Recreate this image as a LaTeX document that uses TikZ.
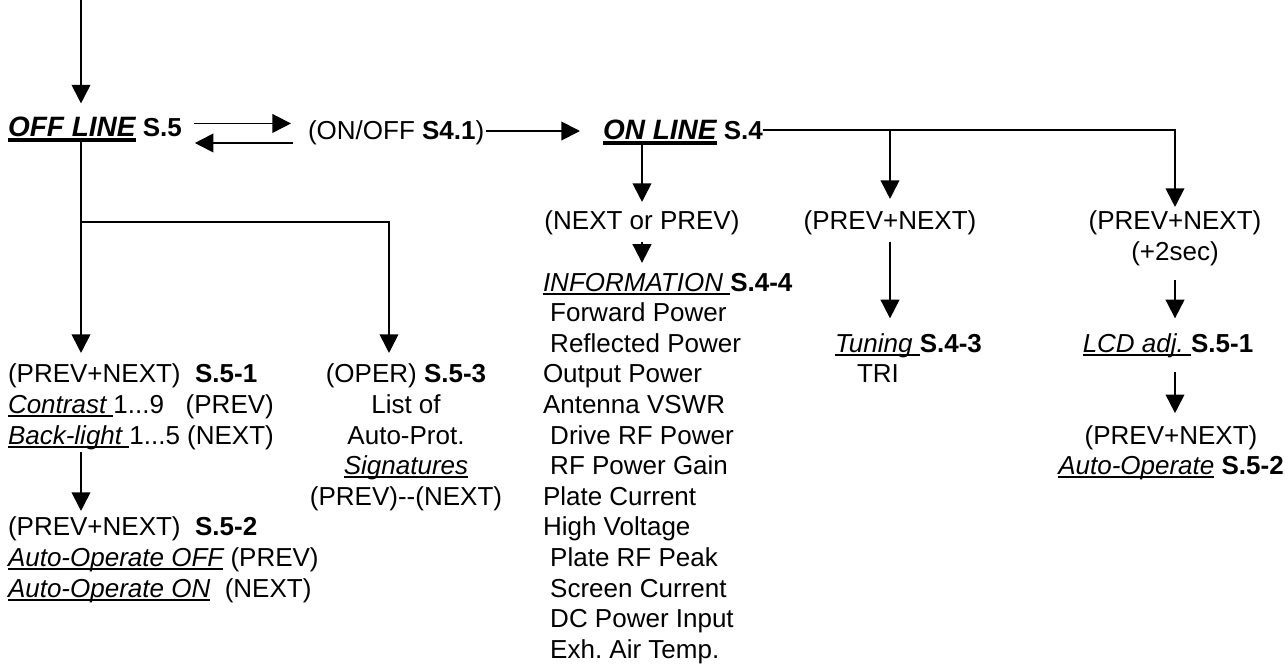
\documentclass[tikz,border=0pt]{standalone}
\usepackage{fontspec}
\setmainfont{Liberation Sans}
\usetikzlibrary{arrows.meta,positioning,calc}
\frenchspacing
\newcommand{\txtfont}{\fontsize{19.5pt}{22.95pt}\selectfont}
\newcommand{\hdfont}{\fontsize{21pt}{22.95pt}\selectfont}
\newcommand{\undl}[1]{\setbox0\hbox{#1}\rlap{\rule[-0.14em]{\wd0}{0.075em}}\box0\relax}
\newcommand{\undlb}[1]{\setbox0\hbox{#1}\rlap{\rule[-0.22em]{\wd0}{0.13em}}\box0\relax}
\newcommand{\lead}{\hspace*{0.278em}}

\begin{document}
\begin{tikzpicture}[x=0.75pt,y=-0.75pt,
  txt/.style={inner sep=0pt,outer sep=0pt,font=\txtfont},
  col/.style={txt,align=left},
  ctr/.style={txt,align=center},
  arr/.style={-{Triangle[length=14pt,width=14pt]},line width=1.4pt}
]
  \useasboundingbox (0,0) rectangle (1288,664);
  \coordinate (entry) at (81,0);
  \coordinate (split) at (81,222);
  % header line
  \node[txt,anchor=base west] (offline) at (8,136) {\undlb{\hdfont\bfseries\itshape OFF LINE} \textbf{S.5}};
  \node[txt,anchor=base west] (onoff) at (308,139) {(ON/OFF \textbf{S4.1})};
  \node[txt,anchor=base west] (online) at (603,139) {\undlb{\hdfont\bfseries\itshape ON LINE} \textbf{S.4}};
  % on line branches (multi-line nodes sit on their last baseline)
  \node[txt,anchor=base] (nextprev) at (642,229.8) {(NEXT or PREV)};
  \node[txt,anchor=base] (pnmid) at (890,229.8) {(PREV+NEXT)};
  \node[ctr,anchor=base] (hold) at (1175,260.4) {(PREV+NEXT)\\(+2sec)};
  \node[col,anchor=base west] (info) at (543,658.2) {\undl{\itshape INFORMATION }\textbf{S.4-4}\\
    \lead Forward Power\\ \lead Reflected Power\\ Output Power\\ Antenna VSWR\\
    \lead Drive RF Power\\ \lead RF Power Gain\\ Plate Current\\ High Voltage\\
    \lead Plate RF Peak\\ \lead Screen Current\\ \lead DC Power Input\\ \lead Exh. Air Temp.};
  \node[txt,anchor=base west] (tuning) at (835,352.2) {\undl{\itshape Tuning }\textbf{S.4-3}};
  \node[txt,anchor=base] (tri) at (878,382.8) {TRI};
  \node[txt,anchor=base] (lcd) at (1168,352.2) {\undl{\itshape LCD adj. }\textbf{S.5-1}};
  \node[ctr,anchor=base] (autoop) at (1171,474.6) {(PREV+NEXT)\\\undl{\itshape Auto-Operate} \textbf{S.5-2}};
  % off line branches
  \node[col,anchor=base west] (s51) at (8,444) {(PREV+NEXT)\ \ \textbf{S.5-1}\\
    \undl{\itshape Contrast }1...9\ \ \ (PREV)\\ \undl{\itshape Back-light }1...5 (NEXT)};
  \node[ctr,anchor=base] (oper) at (406,505.2) {(OPER) \textbf{S.5-3}\\List of\\Auto-Prot.\\
    \undl{\itshape Signatures}\\(PREV)-{}-(NEXT)};
  \node[col,anchor=base west] (s52) at (8,597) {(PREV+NEXT)\ \ \textbf{S.5-2}\\
    \undl{\itshape Auto-Operate OFF} (PREV)\\ \undl{\itshape Auto-Operate ON}\ \ (NEXT)};

  \path ([yshift=9.4pt]offline.base east) coordinate (fwd)
        ([yshift=-5.25pt]offline.base east) coordinate (back)
        ([yshift=6pt]onoff.base east) coordinate (go)
        ([yshift=6.75pt]online.base east) coordinate (bus);
  \draw[arr,shorten >=9.75pt] (entry) -- (entry |- offline.north);
  \draw[arr,shorten <=9pt,shorten >=12.75pt] (fwd) -- (fwd -| onoff.west);
  \draw[arr,shorten <=11.25pt,shorten >=9.75pt] (back -| onoff.west) -- (back);
  \draw[arr,shorten <=1.5pt,shorten >=17.25pt] (go) -- (go -| online.west);
  \draw[arr,shorten >=3pt] (bus) -| (hold.north);
  \draw[arr,shorten >=9pt] (bus -| pnmid.north) -- (pnmid.north);
  \draw[arr,shorten >=6.75pt] (online.south -| nextprev.north) -- (nextprev.north);
  \draw[arr,shorten <=5pt,shorten >=7.5pt] (nextprev.south) -- (nextprev.south |- info.north);
  \draw[arr,shorten <=5pt,shorten >=11.25pt] (pnmid.south) -- (pnmid.south |- tuning.north);
  \draw[arr,shorten <=10.5pt,shorten >=11.25pt] (hold.south) -- (hold.south |- lcd.north);
  \draw[arr,shorten <=10.5pt,shorten >=9pt] (lcd.south -| hold.south) -- (hold.south |- autoop.north);
  \draw[arr,shorten >=8.25pt] (entry |- offline.south) -- (entry |- s51.north);
  \draw[arr,shorten >=8.25pt] (split) -| ([xshift=-12.75pt]oper.north);
  \draw[arr,shorten <=2pt,shorten >=4.5pt] (entry |- s51.south) -- (entry |- s52.north);
\end{tikzpicture}
\end{document}
